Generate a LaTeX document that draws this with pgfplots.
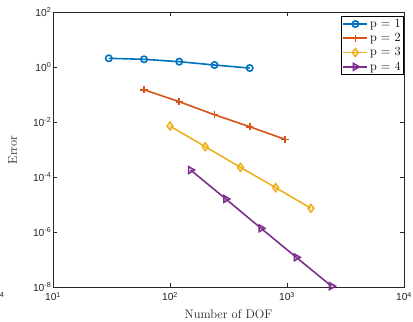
\documentclass[border=0pt]{standalone}
\usepackage{fontspec}
\usepackage{pgfplots}
\pgfplotsset{compat=1.18}
\newfontfamily\ticksf{Liberation Sans}
\definecolor{c1}{rgb}{0,0.447,0.741}
\definecolor{c2}{rgb}{0.85,0.325,0.098}
\definecolor{c3}{rgb}{0.929,0.694,0.125}
\definecolor{c4}{rgb}{0.494,0.184,0.556}
\definecolor{axc}{rgb}{0.15,0.15,0.15}
\begin{document}
\begin{tikzpicture}
\begin{axis}[
  scale only axis, width=351bp, height=275bp,
  xmode=log, ymode=log, log basis x=10, log basis y=10,
  xmin=10, xmax=10000, ymin=1e-8, ymax=100,
  xtick={10,100,1000,10000},
  xticklabels={10\textsuperscript{1},10\textsuperscript{2},10\textsuperscript{3},10\textsuperscript{4}},
  ytick={1e-8,1e-6,1e-4,1e-2,1,100},
  yticklabels={10\textsuperscript{-8},10\textsuperscript{-6},10\textsuperscript{-4},10\textsuperscript{-2},10\textsuperscript{0},10\textsuperscript{2}},
  yminorticks=false,
  ticklabel style={font=\ticksf\fontsize{10.3}{12}\selectfont, text=axc},
  yticklabel style={inner sep=1.5bp},
  xticklabel style={yshift=-1.5bp},
  major tick length=4bp, minor tick length=2.5bp,
  every tick/.style={color=axc, line width=0.5pt},
  axis line style={axc, line width=0.6pt},
  clip=false,
  xlabel={Number of DOF},
  ylabel={Error},
  label style={font=\fontsize{12.5}{15}\selectfont, text=axc},
  xlabel style={at={(axis description cs:0.5,-0.1127)}, anchor=base},
  ylabel style={at={(axis description cs:-0.1026,0.5)}, anchor=base, rotate=0},
  legend style={at={(1,1)}, anchor=north east, yshift=-3.5bp, draw=black, line width=0.7pt,
    font=\fontsize{12.5}{14}\selectfont, inner sep=1bp, row sep=0.5pt},
  legend cell align=left,
  legend image code/.code={\draw[mark repeat=2,mark phase=2] plot coordinates {(0bp,0bp)(12bp,0bp)(24bp,0bp)};},
]
\addplot[color=c1, line width=1.6pt, mark=o, mark size=3.2bp, mark options={solid}] coordinates {
(30,2.12) (60,1.95) (120,1.6) (240,1.21) (480,0.94)};
\addlegendentry{p = 1}
\addplot[draw=c2, color=c2, line width=1.6pt, mark=+, mark size=3.6bp, mark options={solid, line width=1.6pt}] coordinates {
(60,0.153) (120,0.056) (240,0.0189) (480,0.0069) (960,0.0024)};
\addlegendentry{p = 2}
\addplot[color=c3, line width=1.6pt, mark=diamond, mark size=3.9bp, mark options={solid}] coordinates {
(100,0.0073) (200,0.0013) (400,2.3e-4) (800,4.2e-5) (1600,7.5e-6)};
\addlegendentry{p = 3}
\addplot[color=c4, line width=1.6pt, mark=triangle, mark size=3.9bp, mark options={solid, rotate=-90}] coordinates {
(150,1.84e-4) (300,1.63e-5) (600,1.4e-6) (1200,1.23e-7) (2400,1.1e-8)};
\addlegendentry{p = 4}
\end{axis}
\node[font=\ticksf\fontsize{7.5}{8}\selectfont, text=axc, inner sep=0pt] at ([shift={(-51bp,-8bp)}]current axis.south west) {4};
\pgfresetboundingbox
\path[use as bounding box] ([shift={(-53bp,-34bp)}]current axis.south west) rectangle ([shift={(9bp,12.3bp)}]current axis.north east);
\end{tikzpicture}
\end{document}
